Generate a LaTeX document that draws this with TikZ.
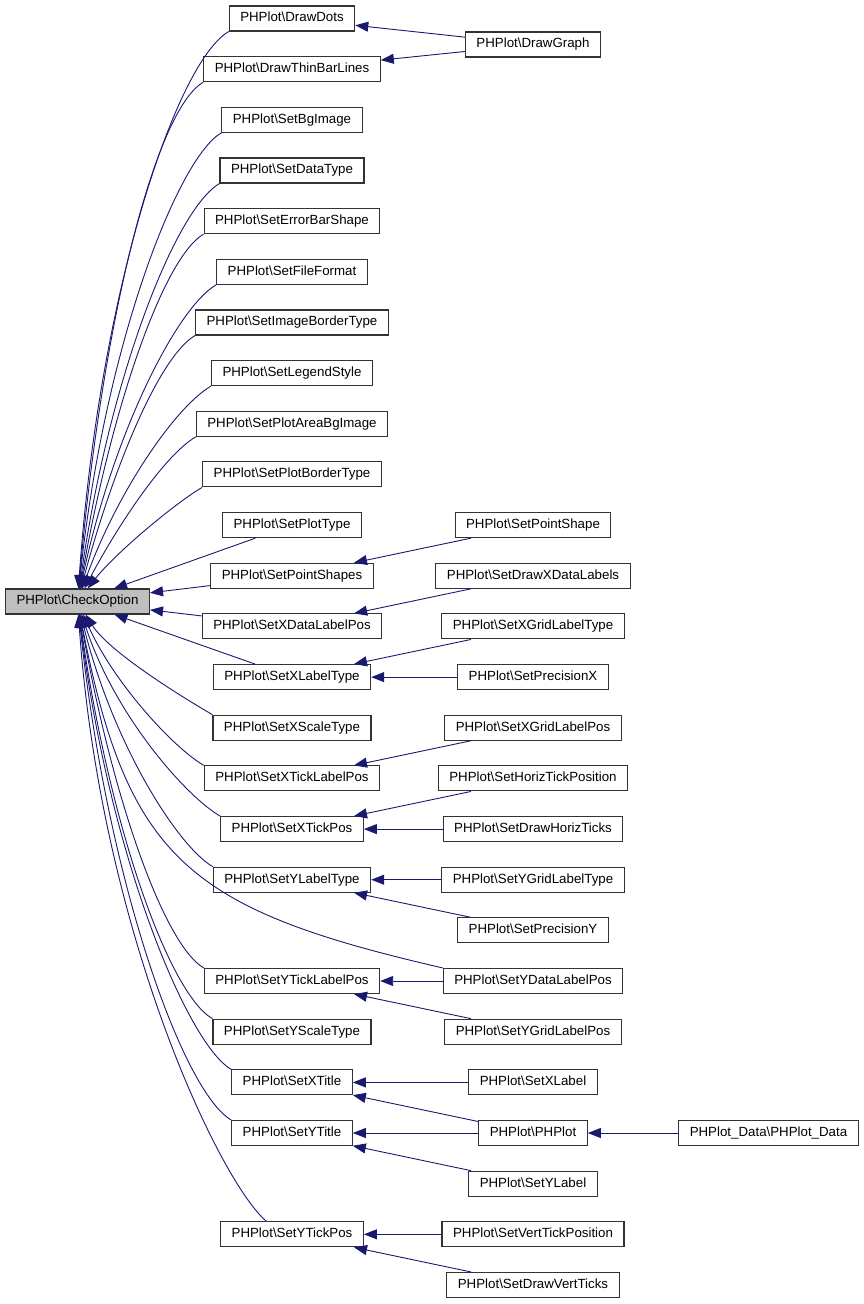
\documentclass[tikz,border=0pt]{standalone}
\usepackage{fontspec}
\setmainfont{Liberation Sans}
\usetikzlibrary{arrows.meta}
\definecolor{edgeblue}{HTML}{191970}
\definecolor{nodegrey}{HTML}{BFBFBF}
\newcommand{\phplot}[1]{PHPlot\textbackslash #1}

\begin{document}
\begin{tikzpicture}[x=1pt, y=1pt,
		node_style/.style={rectangle, draw=black!80, line width=1.1pt, fill=white, inner xsep=11pt, inner ysep=0pt, minimum height=25pt, text height=9.5pt, text depth=2.8pt, font=\fontsize{13.3}{15}\selectfont},
		node_style_grey/.style={node_style, fill=nodegrey},
		edge_style/.style={color=edgeblue, line width=0.9pt, -{Triangle[length=13pt,width=10pt]}}]

		\useasboundingbox (0,0) rectangle (864,-1304);

		% callee
		\node[node_style_grey] (checkopt) at (77.5,-601.5) {\phplot{CheckOption}};

		% direct callers
		\node[node_style] (drawdots) at (292,-18.5) {\phplot{DrawDots}};
		\node[node_style] (thinbar) at (292,-69.2) {\phplot{DrawThinBarLines}};
		\node[node_style] (bgimage) at (292,-119.8) {\phplot{SetBgImage}};
		\node[node_style] (datatype) at (292,-170.5) {\phplot{SetDataType}};
		\node[node_style] (errbar) at (292,-221.1) {\phplot{SetErrorBarShape}};
		\node[node_style] (fileformat) at (292,-271.8) {\phplot{SetFileFormat}};
		\node[node_style] (imgborder) at (292,-322.5) {\phplot{SetImageBorderType}};
		\node[node_style] (legend) at (292,-373.1) {\phplot{SetLegendStyle}};
		\node[node_style] (areabg) at (292,-423.8) {\phplot{SetPlotAreaBgImage}};
		\node[node_style] (plotborder) at (292,-474.4) {\phplot{SetPlotBorderType}};
		\node[node_style] (plottype) at (292,-525.1) {\phplot{SetPlotType}};
		\node[node_style] (pointshapes) at (292,-575.8) {\phplot{SetPointShapes}};
		\node[node_style] (xdatapos) at (292,-626.4) {\phplot{SetXDataLabelPos}};
		\node[node_style] (xlabeltype) at (292,-677.1) {\phplot{SetXLabelType}};
		\node[node_style] (xscale) at (292,-727.7) {\phplot{SetXScaleType}};
		\node[node_style] (xticklabel) at (292,-778.4) {\phplot{SetXTickLabelPos}};
		\node[node_style] (xtickpos) at (292,-829.1) {\phplot{SetXTickPos}};
		\node[node_style] (ylabeltype) at (292,-879.7) {\phplot{SetYLabelType}};
		\node[node_style] (yticklabel) at (292,-981.0) {\phplot{SetYTickLabelPos}};
		\node[node_style] (yscale) at (292,-1031.7) {\phplot{SetYScaleType}};
		\node[node_style] (xtitle) at (292,-1082.4) {\phplot{SetXTitle}};
		\node[node_style] (ytitle) at (292,-1133.0) {\phplot{SetYTitle}};
		\node[node_style] (ytickpos) at (292,-1234.3) {\phplot{SetYTickPos}};

		% second level callers
		\node[node_style] (drawgraph) at (533,-44.5) {\phplot{DrawGraph}};
		\node[node_style] (pointshape) at (533,-525.1) {\phplot{SetPointShape}};
		\node[node_style] (drawxdata) at (533,-575.8) {\phplot{SetDrawXDataLabels}};
		\node[node_style] (xgridtype) at (533,-626.4) {\phplot{SetXGridLabelType}};
		\node[node_style] (precx) at (533,-677.1) {\phplot{SetPrecisionX}};
		\node[node_style] (xgridpos) at (533,-727.7) {\phplot{SetXGridLabelPos}};
		\node[node_style] (horizpos) at (533,-778.4) {\phplot{SetHorizTickPosition}};
		\node[node_style] (horizticks) at (533,-829.1) {\phplot{SetDrawHorizTicks}};
		\node[node_style] (ygridtype) at (533,-879.7) {\phplot{SetYGridLabelType}};
		\node[node_style] (precy) at (533,-930.4) {\phplot{SetPrecisionY}};
		\node[node_style] (ydatapos) at (533,-981.0) {\phplot{SetYDataLabelPos}};
		\node[node_style] (ygridpos) at (533,-1031.7) {\phplot{SetYGridLabelPos}};
		\node[node_style] (xlabel) at (533,-1082.4) {\phplot{SetXLabel}};
		\node[node_style] (phplot) at (533,-1133.0) {\phplot{PHPlot}};
		\node[node_style] (ylabel) at (533,-1183.7) {\phplot{SetYLabel}};
		\node[node_style] (vertpos) at (533,-1234.3) {\phplot{SetVertTickPosition}};
		\node[node_style] (vertticks) at (533,-1285.0) {\phplot{SetDrawVertTicks}};

		\node[node_style] (plotdata) at (768.5,-1133.0) {PHPlot\_Data\textbackslash PHPlot\_Data};

		% fan into CheckOption, upper half
		\draw[edge_style] (drawdots.south west) to[out=210, in=86, out distance=60pt, in distance=300pt] (checkopt);
		\draw[edge_style] (thinbar.south west) to[out=210, in=85, out distance=55pt, in distance=270pt] (checkopt);
		\draw[edge_style] (bgimage.south west) to[out=210, in=84, out distance=50pt, in distance=245pt] (checkopt);
		\draw[edge_style] (datatype.south west) to[out=210, in=82, out distance=50pt, in distance=215pt] (checkopt);
		\draw[edge_style] (errbar.south west) to[out=210, in=80, out distance=45pt, in distance=190pt] (checkopt);
		\draw[edge_style] (fileformat.south west) to[out=210, in=78, out distance=45pt, in distance=160pt] (checkopt);
		\draw[edge_style] (imgborder.south west) to[out=210, in=75, out distance=40pt, in distance=130pt] (checkopt);
		\draw[edge_style] (legend.south west) to[out=210, in=70, out distance=40pt, in distance=105pt] (checkopt);
		\draw[edge_style] (areabg.south west) to[out=210, in=62, out distance=35pt, in distance=75pt] (checkopt);
		\draw[edge_style] (plotborder.south west) to[out=210, in=52, out distance=30pt, in distance=45pt] (checkopt);
		\draw[edge_style] (plottype) -- (checkopt);
		\draw[edge_style] (pointshapes) -- (checkopt);
		\draw[edge_style] (xdatapos) -- (checkopt);
		\draw[edge_style] (xlabeltype) -- (checkopt);

		% fan into CheckOption, lower half
		\draw[edge_style] (xscale.north west) to[out=150, in=-58, out distance=30pt, in distance=45pt] (checkopt);
		\draw[edge_style] (xticklabel.north west) to[out=150, in=-66, out distance=35pt, in distance=75pt] (checkopt);
		\draw[edge_style] (xtickpos.north west) to[out=150, in=-72, out distance=40pt, in distance=105pt] (checkopt);
		\draw[edge_style] (ylabeltype.north west) to[out=150, in=-76, out distance=40pt, in distance=135pt] (checkopt);
		\draw[edge_style] (ydatapos.north west) to[out=167, in=-79, out distance=260pt, in distance=250pt] (checkopt);
		\draw[edge_style] (yticklabel.north west) to[out=150, in=-80, out distance=45pt, in distance=190pt] (checkopt);
		\draw[edge_style] (yscale.north west) to[out=150, in=-82, out distance=50pt, in distance=215pt] (checkopt);
		\draw[edge_style] (xtitle.north west) to[out=150, in=-83, out distance=50pt, in distance=245pt] (checkopt);
		\draw[edge_style] (ytitle.north west) to[out=150, in=-84, out distance=55pt, in distance=270pt] (checkopt);
		\draw[edge_style] (ytickpos.153) to[out=140, in=-86, out distance=60pt, in distance=320pt] (checkopt);

		% second level
		\draw[edge_style] (drawgraph) -- (drawdots);
		\draw[edge_style] (drawgraph) -- (thinbar);
		\draw[edge_style] (pointshape) -- (pointshapes);
		\draw[edge_style] (drawxdata) -- (xdatapos);
		\draw[edge_style] (xgridtype) -- (xlabeltype);
		\draw[edge_style] (precx) -- (xlabeltype);
		\draw[edge_style] (xgridpos) -- (xticklabel);
		\draw[edge_style] (horizpos) -- (xtickpos);
		\draw[edge_style] (horizticks) -- (xtickpos);
		\draw[edge_style] (ygridtype) -- (ylabeltype);
		\draw[edge_style] (precy) -- (ylabeltype);
		\draw[edge_style] (ydatapos) -- (yticklabel);
		\draw[edge_style] (ygridpos) -- (yticklabel);
		\draw[edge_style] (xlabel) -- (xtitle);
		\draw[edge_style] (phplot) -- (xtitle);
		\draw[edge_style] (phplot) -- (ytitle);
		\draw[edge_style] (ylabel) -- (ytitle);
		\draw[edge_style] (vertpos) -- (ytickpos);
		\draw[edge_style] (vertticks) -- (ytickpos);
		\draw[edge_style] (plotdata) -- (phplot);
\end{tikzpicture}
\end{document}
